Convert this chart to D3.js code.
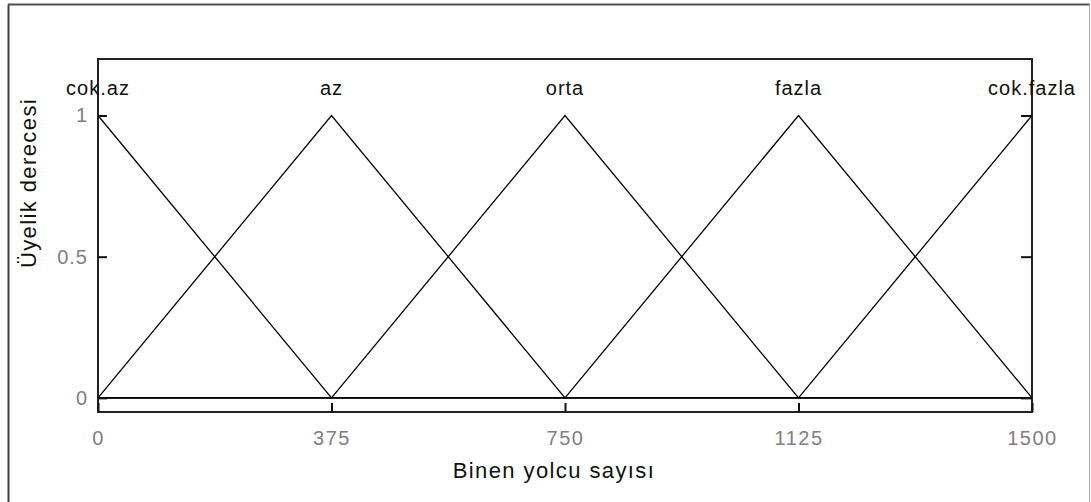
<!DOCTYPE html>
<html>
<head>
<meta charset="utf-8">
<script src="https://cdn.jsdelivr.net/npm/d3@7"></script>
<style>
  html, body { margin: 0; padding: 0; background: #fff; }
  svg { display: block; font-family: "Liberation Sans", Arial, sans-serif; }
</style>
</head>
<body>
<svg id="chart" width="1091" height="502"></svg>
<script>
// ---- data ----
const mfNames = ["cok.az", "az", "orta", "fazla", "cok.fazla"];
const mfPeaks = [0, 375, 750, 1125, 1500];
const cokAz    = [[0, 1], [375, 0], [1500, 0]];
const az       = [[0, 0], [375, 1], [750, 0], [1500, 0]];
const orta     = [[0, 0], [375, 0], [750, 1], [1125, 0], [1500, 0]];
const fazla    = [[0, 0], [750, 0], [1125, 1], [1500, 0]];
const cokFazla = [[0, 0], [1125, 0], [1500, 1]];
const xTicks = [0, 375, 750, 1125, 1500];
const yTicks = [0, 0.5, 1];
const yTickLabels = ["0", "0.5", "1"];
const xLabel = "Binen yolcu sayısı";
const yLabel = "Üyelik derecesi";

// ---- layout ----
const svg = d3.select("#chart");
const L = 98, R = 1032, T = 59, B = 412;
const x = d3.scaleLinear().domain([0, 1500]).range([L, R]);
const y = d3.scaleLinear().domain([-0.05, 1.2]).range([B, T]);

// outer frame
svg.append("line").attr("x1", 8.5).attr("x2", 8.5).attr("y1", 4.5).attr("y2", 502)
  .attr("stroke", "#404040").attr("stroke-width", 2);
svg.append("line").attr("x1", 8).attr("x2", 1090).attr("y1", 4.5).attr("y2", 4.5)
  .attr("stroke", "#505050").attr("stroke-width", 2);
svg.append("line").attr("x1", 1089.5).attr("x2", 1089.5).attr("y1", 4).attr("y2", 502)
  .attr("stroke", "#a8a8a8").attr("stroke-width", 1);

// MF lines
const line = d3.line().x(d => x(d[0])).y(d => y(d[1]));
[cokAz, az, orta, fazla, cokFazla].forEach(s => {
  svg.append("path").attr("d", line(s)).attr("fill", "none")
    .attr("stroke", "#000").attr("stroke-width", 1.3);
});

// plot box
svg.append("rect").attr("x", L).attr("y", T).attr("width", R - L).attr("height", B - T)
  .attr("fill", "none").attr("stroke", "#222").attr("stroke-width", 2);

// x axis (bottom), ticks pointing inward
const xAxis = d3.axisBottom(x).tickValues(xTicks).tickSize(-9).tickPadding(19).tickFormat(d3.format("d"));
const gx = svg.append("g").attr("transform", `translate(0,${B})`).call(xAxis);
gx.select(".domain").remove();
gx.selectAll(".tick line").attr("stroke", "#111").attr("stroke-width", 2);
gx.selectAll(".tick text").attr("fill", "#808080").attr("font-size", 20)
  .style("letter-spacing", "1.5px").attr("font-family", "Liberation Sans, Arial, sans-serif");

// y axis left
const yAxisL = d3.axisLeft(y).tickValues(yTicks).tickSize(-9).tickPadding(10)
  .tickFormat((d, i) => yTickLabels[i]);
const gyl = svg.append("g").attr("transform", `translate(${L},0)`).call(yAxisL);
gyl.select(".domain").remove();
gyl.selectAll(".tick line").attr("stroke", "#111").attr("stroke-width", 2);
gyl.selectAll(".tick text").attr("fill", "#808080").attr("font-size", 20)
  .style("letter-spacing", "1px").attr("font-family", "Liberation Sans, Arial, sans-serif");

// y axis right (ticks only)
const yAxisR = d3.axisRight(y).tickValues(yTicks).tickSize(-11).tickFormat("");
const gyr = svg.append("g").attr("transform", `translate(${R},0)`).call(yAxisR);
gyr.select(".domain").remove();
gyr.selectAll(".tick line").attr("stroke", "#111").attr("stroke-width", 2);

// MF names
svg.selectAll("text.mf").data(mfNames).enter().append("text")
  .attr("class", "mf")
  .attr("x", (d, i) => x(mfPeaks[i]))
  .attr("y", 95)
  .attr("text-anchor", "middle")
  .attr("font-size", 20)
  .style("letter-spacing", "1px")
  .attr("fill", "#111")
  .text(d => d);

// axis labels
svg.append("text").attr("x", 554).attr("y", 478).attr("text-anchor", "middle")
  .attr("font-size", 22).style("letter-spacing", "1.4px").attr("fill", "#111").text(xLabel);
svg.append("text").attr("transform", "translate(36,183) rotate(-90)").attr("text-anchor", "middle")
  .attr("font-size", 22).style("letter-spacing", "1.4px").attr("fill", "#111").text(yLabel);
</script>
</body>
</html>
